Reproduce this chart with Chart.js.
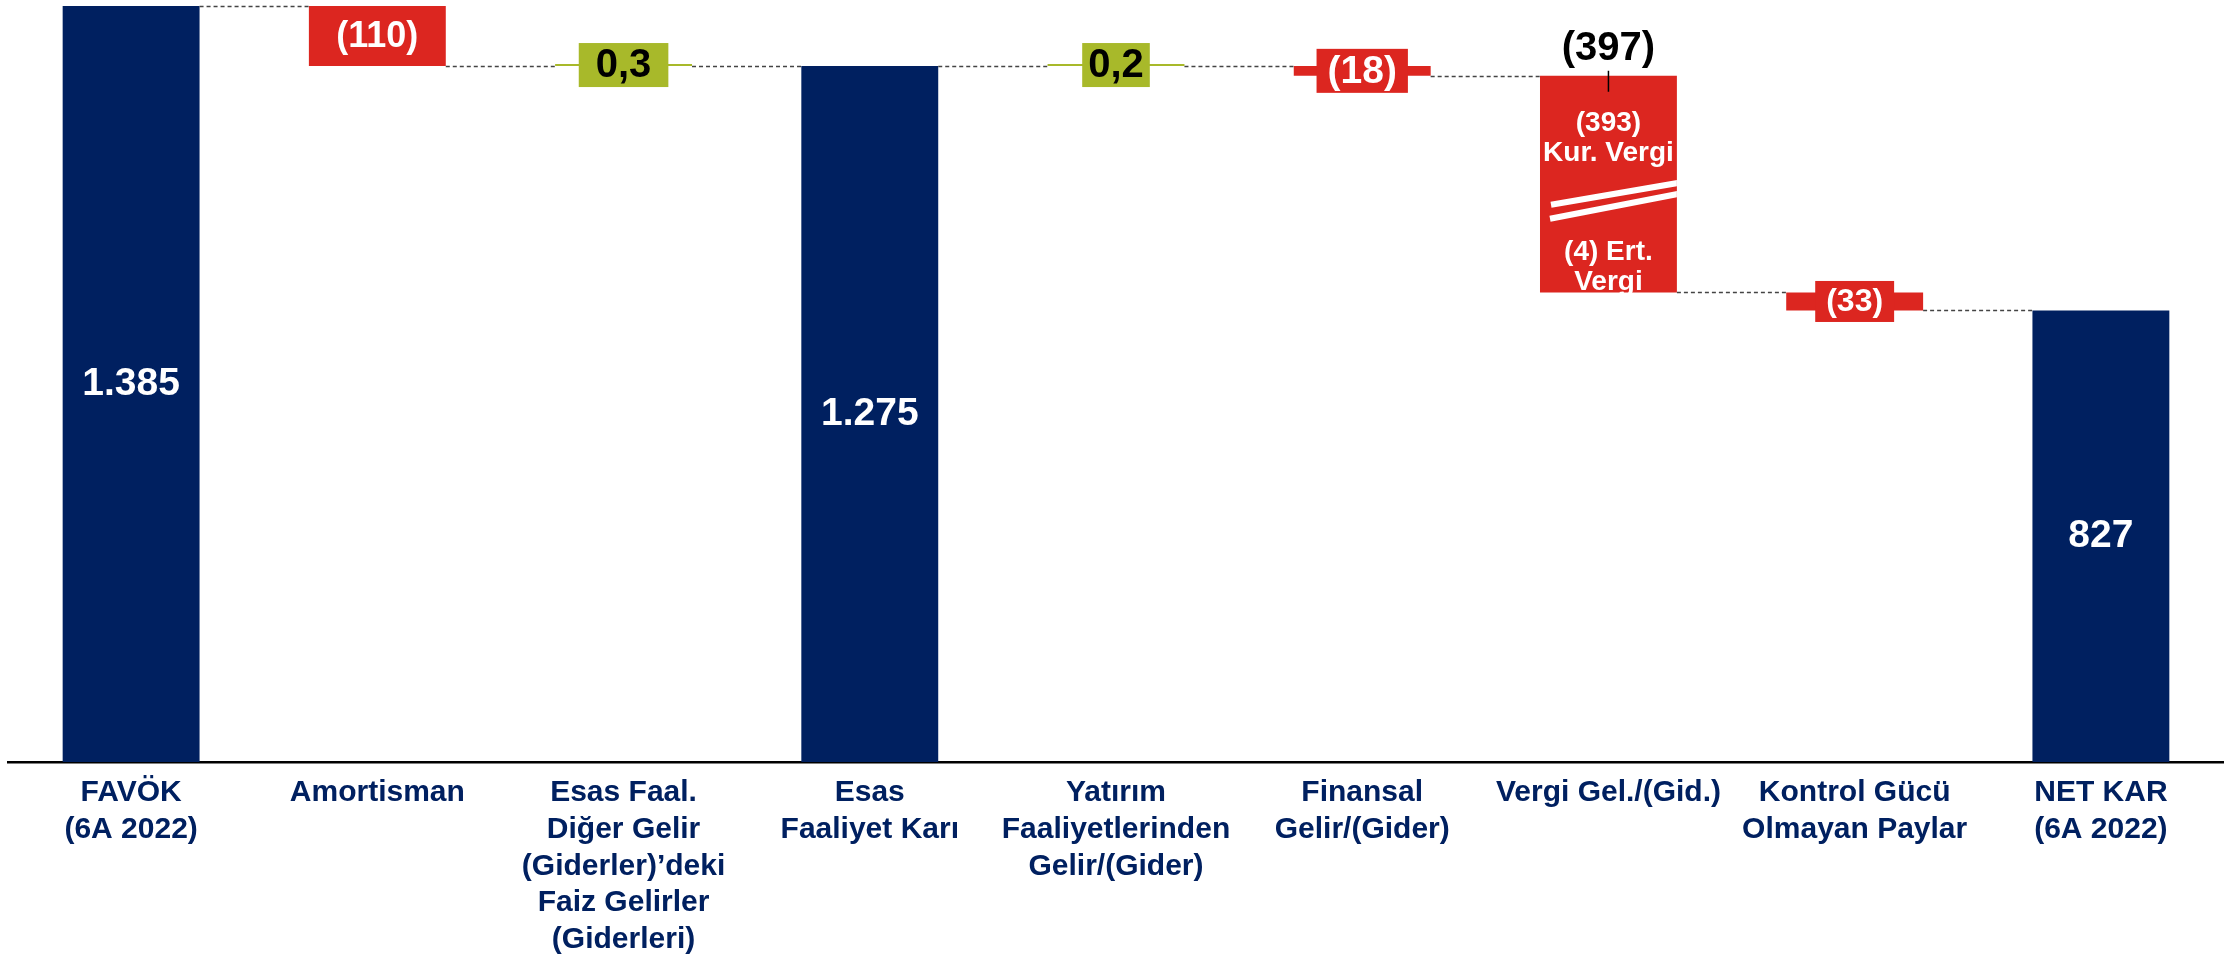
<!DOCTYPE html>
<html>
<head>
<meta charset="utf-8">
<script src="https://cdn.jsdelivr.net/npm/chart.js@4/dist/chart.umd.min.js"></script>
<style>
html, body { margin: 0; padding: 0; background: #fff; }
#wrap { width: 2224px; height: 958px; }
</style>
</head>
<body>
<div id="wrap"><canvas id="waterfall" width="2224" height="958"></canvas></div>
<script>
// kategoriler (x ekseni)
var categories = [
    ['FAVÖK', '(6A 2022)'],
    ['Amortisman'],
    ['Esas Faal.', 'Diğer Gelir', '(Giderler)’deki', 'Faiz Gelirler', '(Giderleri)'],
    ['Esas', 'Faaliyet Karı'],
    ['Yatırım', 'Faaliyetlerinden', 'Gelir/(Gider)'],
    ['Finansal', 'Gelir/(Gider)'],
    ['Vergi Gel./(Gid.)'],
    ['Kontrol Gücü', 'Olmayan Paylar'],
    ['NET KAR', '(6A 2022)']
];
var values = [1385, -110, 0.3, 1275, 0.2, -18, -397, -33, 827];
var kinds = ['total', 'delta', 'delta', 'total', 'delta', 'delta', 'delta', 'delta', 'total'];

// vergi kırılımı
var taxIndex = 6;
var taxParts = [393, 4];
var taxNames = ['Kur. Vergi', 'Ert. Vergi'];

var NAVY = '#002060', RED = '#DC2620', GREEN = '#A8B92A';
var FONT = "'Liberation Sans', Arial, sans-serif";

// etiket stilleri
var labelSize = [39, 36, 40, 39, 40, 39, 40, 32, 39];
var boxPadX = [0, 0, 17, 0, 6, 11, 0, 11, 0];
var boxH = [0, 44, 44, 0, 44, 44, 0, 41, 0];

var running = 0;
var floating = values.map(function (v, i) {
    if (kinds[i] === 'total') { running = v; return [0, v]; }
    var from = running;
    running += v;
    return [from, running];
});

var colors = values.map(function (v, i) {
    if (kinds[i] === 'total') return NAVY;
    return v < 0 ? RED : GREEN;
});

function fmt(v) {
    var a = Math.abs(v);
    var s;
    if (a >= 1000) {
        s = Math.floor(a / 1000) + '.' + String(Math.round(a % 1000)).padStart(3, '0');
    } else {
        s = String(a).replace('.', ',');
    }
    return v < 0 ? '(' + s + ')' : s;
}

var waterfallLabels = {
    id: 'waterfallLabels',
    afterDatasetsDraw: function (chart) {
        var ctx = chart.ctx;
        var meta = chart.getDatasetMeta(0);
        var yScale = chart.scales.y;
        var n = values.length;

        // kesikli bağlantı çizgileri
        ctx.save();
        ctx.strokeStyle = '#444444';
        ctx.lineWidth = 1.5;
        ctx.setLineDash([4, 3]);
        for (var i = 0; i < n - 1; i++) {
            var a = meta.data[i], b = meta.data[i + 1];
            var y = Math.round(yScale.getPixelForValue(floating[i][1])) + 0.5;
            ctx.beginPath();
            ctx.moveTo(a.x + a.width / 2, y);
            ctx.lineTo(b.x - b.width / 2, y);
            ctx.stroke();
        }
        ctx.restore();

        ctx.save();
        ctx.textAlign = 'center';
        ctx.textBaseline = 'middle';
        for (var j = 0; j < n; j++) {
            var bar = meta.data[j];
            var top = Math.min(bar.y, bar.base);
            var bottom = Math.max(bar.y, bar.base);
            var cy = (top + bottom) / 2;
            var text = fmt(values[j]);
            ctx.font = 'bold ' + labelSize[j] + 'px ' + FONT;

            if (j === taxIndex) {
                var left = bar.x - bar.width / 2, right = bar.x + bar.width / 2;
                ctx.fillStyle = '#000';
                ctx.fillText(text, bar.x, top - 27);
                ctx.strokeStyle = '#000';
                ctx.lineWidth = 1.5;
                ctx.beginPath();
                ctx.moveTo(bar.x, top - 5);
                ctx.lineTo(bar.x, top + 16);
                ctx.stroke();

                ctx.fillStyle = '#fff';
                ctx.font = 'bold 28px ' + FONT;
                ctx.fillText(fmt(-taxParts[0]), bar.x, top + 48);
                ctx.fillText(taxNames[0], bar.x, top + 78);
                var second = taxNames[1].split(' ');
                ctx.fillText(fmt(-taxParts[1]) + ' ' + second[0], bar.x, bottom - 40);
                ctx.fillText(second[1], bar.x, bottom - 10);

                ctx.save();
                ctx.beginPath();
                ctx.rect(left, top, bar.width, bottom - top);
                ctx.clip();
                ctx.strokeStyle = '#fff';
                ctx.lineWidth = 6;
                ctx.beginPath();
                ctx.moveTo(left + 11, top + 129);
                ctx.lineTo(right + 2, top + 107);
                ctx.moveTo(left + 10, top + 143);
                ctx.lineTo(right + 2, top + 118);
                ctx.stroke();
                ctx.restore();
                continue;
            }

            if (kinds[j] === 'total') {
                ctx.fillStyle = '#fff';
                ctx.fillText(text, bar.x, cy);
                continue;
            }

            var tw = ctx.measureText(text).width;
            var bw = tw + 2 * boxPadX[j];
            if (boxH[j] > bottom - top) {
                ctx.fillStyle = colors[j];
                ctx.fillRect(bar.x - bw / 2, cy - boxH[j] / 2, bw, boxH[j]);
            }
            ctx.fillStyle = values[j] < 0 ? '#fff' : '#000';
            ctx.fillText(text, bar.x, cy + 1);
        }
        ctx.restore();
    }
};

var ctx = document.getElementById('waterfall').getContext('2d');

var chart = new Chart(ctx, {
    type: 'bar',
    data: {
        labels: categories,
        datasets: [{
            data: floating,
            backgroundColor: colors,
            borderWidth: 0,
            minBarLength: 2,
            barPercentage: 0.556,
            categoryPercentage: 1.0
        }]
    },
    options: {
        responsive: false,
        maintainAspectRatio: false,
        devicePixelRatio: 1,
        animation: false,
        layout: { padding: { top: 6, left: 8, right: 0, bottom: 0 } },
        plugins: {
            legend: { display: false },
            tooltip: { enabled: false }
        },
        scales: {
            x: {
                grid: { display: false, drawTicks: false },
                border: { display: true, color: '#000', width: 2.5 },
                ticks: {
                    color: NAVY,
                    autoSkip: false,
                    maxRotation: 0,
                    padding: 12,
                    font: { family: FONT, size: 30, weight: 'bold', lineHeight: 1.23 }
                },
                afterFit: function (s) { s.height = 196; }
            },
            y: {
                display: false,
                min: 0,
                max: 1385
            }
        }
    },
    plugins: [waterfallLabels]
});
</script>
</body>
</html>
